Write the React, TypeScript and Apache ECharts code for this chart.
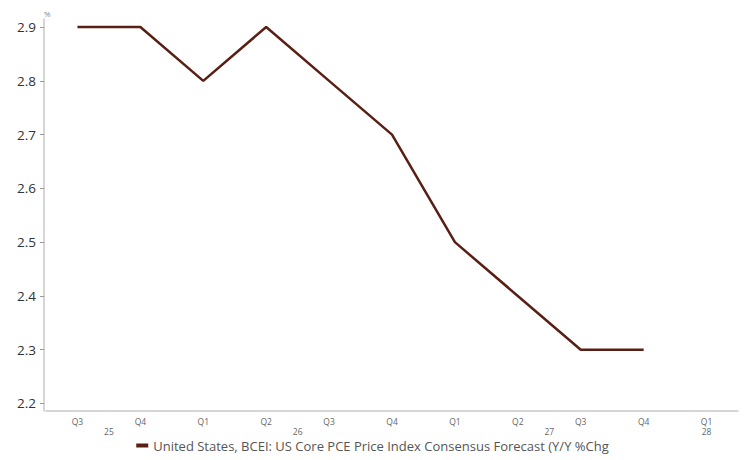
import React, { useEffect, useRef } from "react";
import * as echarts from "echarts";

// Quarterly forecast horizon (Q3 2025 .. Q1 2028)
const quarters = ["Q3", "Q4", "Q1", "Q2", "Q3", "Q4", "Q1", "Q2", "Q3", "Q4", "Q1"];
// Year labels, centred under the quarters of each year
const yearPositions = [0.5, 3.5, 7.5, 10];
const yearLabels = ["25", "26", "27", "28"];
// Core PCE consensus forecast, Y/Y % change
const corePce = [2.9, 2.9, 2.8, 2.9, 2.8, 2.7, 2.5, 2.4, 2.3, 2.3, null];
const yTicks = [2.2, 2.3, 2.4, 2.5, 2.6, 2.7, 2.8, 2.9];

const seriesName =
  "United States, BCEI: US Core PCE Price Index Consensus Forecast (Y/Y %Chg";

const FONT = "'Open Sans', 'Noto Sans', sans-serif";

export default function App() {
  const ref = useRef<HTMLDivElement>(null);

  useEffect(() => {
    if (!ref.current) return;
    const chart = echarts.init(ref.current, null, { renderer: "svg" });
    chart.setOption({
      animation: false,
      backgroundColor: "#ffffff",
      textStyle: { fontFamily: FONT },
      grid: { left: 46, right: 7, top: 19, bottom: 49 },
      legend: {
        bottom: 3,
        left: "center",
        icon: "rect",
        itemWidth: 12,
        itemHeight: 4,
        itemGap: 4,
        textStyle: { fontSize: 13, color: "#555", fontFamily: FONT },
        data: [seriesName],
      },
      xAxis: [
        {
          type: "category",
          data: quarters,
          boundaryGap: true,
          axisLine: { onZero: false, lineStyle: { color: "#c8c8c8", width: 1.5 } },
          axisTick: { show: false },
          axisLabel: { fontSize: 8.5, color: "#666", margin: 6, interval: 0 },
        },
        {
          type: "value",
          position: "bottom",
          min: -0.5,
          max: 10.5,
          axisLine: { show: false, onZero: false },
          axisTick: { show: false },
          splitLine: { show: false },
          axisLabel: {
            customValues: yearPositions,
            fontSize: 8.5,
            color: "#666",
            margin: 16,
            formatter: (v: number) => yearLabels[yearPositions.indexOf(v)] ?? "",
          },
        },
      ],
      yAxis: {
        type: "value",
        min: 2.186,
        max: 2.915,
        offset: 2,
        name: "%",
        nameLocation: "end",
        nameGap: 2,
        nameTextStyle: { fontSize: 8, color: "#888", align: "left", padding: [0, 0, 0, 0] },
        splitLine: { show: false },
        axisLine: { show: true, onZero: false, lineStyle: { color: "#c8c8c8", width: 1.5 } },
        axisTick: { show: true, customValues: yTicks, length: 4, lineStyle: { color: "#999" } },
        axisLabel: {
          customValues: yTicks,
          fontSize: 13.5,
          color: "#333",
          margin: 8,
          formatter: (v: number) => v.toFixed(1),
        },
      },
      series: [
        {
          name: seriesName,
          type: "line",
          data: corePce,
          xAxisIndex: 0,
          symbol: "none",
          color: "#5a1f14",
          lineStyle: { width: 2.5, color: "#5a1f14" },
        },
      ],
    });
    return () => chart.dispose();
  }, []);

  return <div ref={ref} style={{ width: 745, height: 460, position: "absolute", left: 0, top: 0 }} />;
}
